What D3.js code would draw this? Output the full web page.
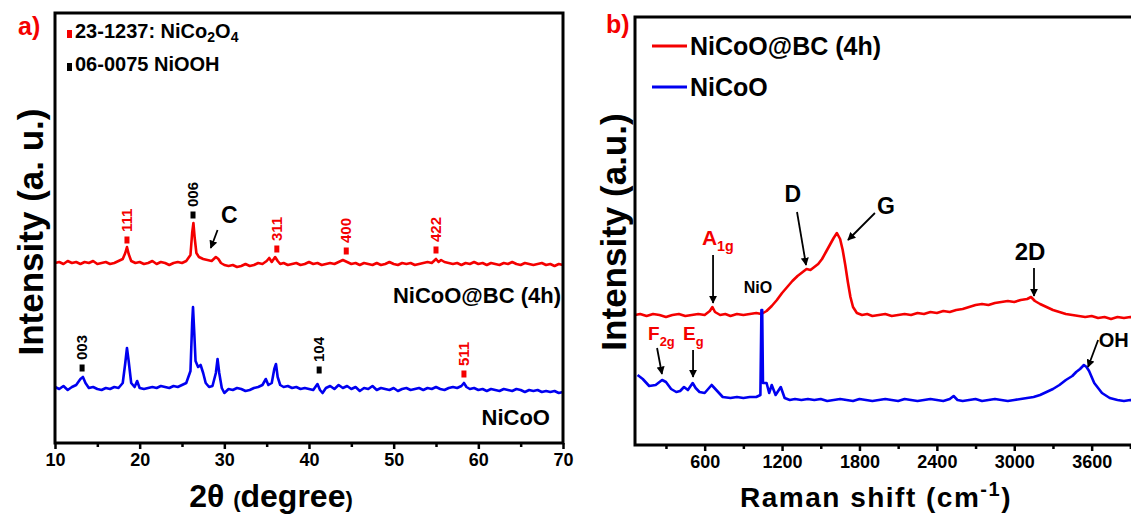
<!DOCTYPE html>
<html>
<head>
<meta charset="utf-8">
<script src="https://cdn.jsdelivr.net/npm/d3@7"></script>
<style>
    body { margin: 0; background: #fff; }
    svg text { font-family: "Liberation Sans", Arial, sans-serif; font-weight: bold; }
</style>
</head>
<body>
<svg id="chart"></svg>
<script>
/*--------------------------------------------------------------------------------
----- DATA (intensities in arbitrary units)
--------------------------------------------------------------------------------*/

// XRD axis ticks
const xrd_ticks = [10, 20, 30, 40, 50, 60, 70];
const xrd_minor_ticks = [15, 25, 35, 45, 55, 65];

// Raman axis ticks
const raman_ticks = [600, 1200, 1800, 2400, 3000, 3600];
const raman_minor_ticks = [300, 900, 1500, 2100, 2700, 3300, 3900];

// XRD pattern of NiCoO@BC (4h): [2theta, intensity]
const xrd_bc_points = [
    [10, 180], [10.5, 181], [11, 179], [11.5, 182], [12, 180], [12.5, 181], [13, 179], [13.5, 181],
    [14, 180], [14.5, 182], [15, 179], [15.5, 180], [16, 181], [16.5, 179], [17, 180], [17.5, 182],
    [18, 184], [18.3, 190], [18.5, 196], [18.7, 189], [19, 182], [19.5, 180], [20, 181], [20.5, 179],
    [21, 180], [21.5, 182], [22, 179], [22.5, 181], [23, 180], [23.5, 178], [24, 180], [24.5, 181],
    [25, 180], [25.5, 182], [26, 188], [26.2, 210], [26.35, 220], [26.5, 205], [26.7, 190], [27, 186],
    [27.5, 184], [28, 183], [28.5, 182], [29, 186], [29.3, 184], [29.6, 180], [30, 178], [30.5, 177],
    [31, 178], [31.5, 176], [32, 177], [32.5, 179], [33, 177], [33.5, 178], [34, 180], [34.5, 179],
    [35, 182], [35.3, 185], [35.6, 181], [36, 186], [36.3, 182], [36.6, 179], [37, 180], [37.5, 178],
    [38, 179], [38.5, 180], [39, 178], [39.5, 179], [40, 181], [40.5, 179], [41, 180], [41.5, 178],
    [42, 179], [42.5, 180], [43, 179], [43.5, 181], [44, 183], [44.5, 181], [45, 179], [45.5, 180],
    [46, 178], [46.5, 180], [47, 179], [47.5, 178], [48, 180], [48.5, 178], [49, 179], [49.5, 181],
    [50, 179], [50.5, 178], [51, 180], [51.5, 179], [52, 180], [52.5, 178], [53, 179], [53.5, 180],
    [54, 181], [54.5, 180], [55, 184], [55.3, 181], [55.6, 183], [56, 181], [56.5, 180], [57, 179],
    [57.5, 180], [58, 178], [58.5, 180], [59, 179], [59.5, 181], [60, 179], [60.5, 180], [61, 178],
    [61.5, 180], [62, 179], [62.5, 178], [63, 180], [63.5, 179], [64, 181], [64.5, 179], [65, 178],
    [65.5, 180], [66, 179], [66.5, 178], [67, 179], [67.5, 180], [68, 178], [68.5, 179], [69, 177],
    [69.5, 179], [70, 178]
];

// XRD pattern of NiCoO: [2theta, intensity]
const xrd_nicoo_points = [
    [10, 56], [10.5, 54], [11, 57], [11.5, 53], [12, 56], [12.5, 58], [13, 64], [13.3, 66],
    [13.6, 60], [14, 55], [14.5, 56], [15, 54], [15.5, 53], [16, 55], [16.5, 54], [17, 56],
    [17.5, 55], [18, 60], [18.3, 80], [18.5, 95], [18.7, 82], [19, 60], [19.4, 56], [19.7, 62],
    [20, 55], [20.5, 54], [21, 55], [21.5, 56], [22, 55], [22.5, 57], [23, 56], [23.5, 55],
    [24, 57], [24.5, 56], [25, 58], [25.5, 60], [26, 72], [26.2, 120], [26.3, 136], [26.45, 110],
    [26.6, 82], [26.9, 76], [27.2, 78], [27.5, 70], [27.8, 60], [28.2, 56], [28.6, 57], [29, 70],
    [29.2, 84], [29.4, 70], [29.7, 55], [30, 50], [30.5, 54], [31, 53], [31.5, 55], [32, 54],
    [32.5, 52], [33, 53], [33.5, 55], [34, 56], [34.5, 58], [34.9, 64], [35.2, 58], [35.6, 60],
    [35.9, 74], [36.1, 79], [36.3, 66], [36.6, 58], [37, 56], [37.5, 57], [38, 55], [38.5, 56],
    [39, 54], [39.5, 55], [40, 54], [40.5, 53], [41, 59], [41.3, 53], [41.6, 50], [42, 55],
    [42.5, 57], [43, 54], [43.5, 58], [44, 55], [44.5, 57], [45, 54], [45.5, 56], [46, 52],
    [46.5, 55], [47, 54], [47.5, 57], [48, 53], [48.5, 55], [49, 54], [49.5, 53], [50, 55],
    [50.5, 52], [51, 54], [51.5, 55], [52, 53], [52.5, 54], [53, 55], [53.5, 53], [54, 55],
    [54.5, 54], [55, 56], [55.5, 54], [56, 53], [56.5, 55], [57, 56], [57.5, 55], [58, 57],
    [58.3, 60], [58.6, 56], [59, 54], [59.5, 55], [60, 53], [60.5, 54], [61, 52], [61.5, 54],
    [62, 53], [62.5, 52], [63, 54], [63.5, 53], [64, 52], [64.5, 54], [65, 53], [65.5, 51],
    [66, 53], [66.5, 52], [67, 53], [67.5, 51], [68, 52], [68.5, 51], [69, 52], [69.5, 50],
    [70, 51]
];

// Reference peaks (JCPDS 23-1237 NiCo2O4 in red, 06-0075 NiOOH in black)
const nico2o4_peaks = [
    { hkl: "111", x: 18.5, y: 203 }, { hkl: "311", x: 36.2, y: 194 },
    { hkl: "400", x: 44.4, y: 192 }, { hkl: "422", x: 55.0, y: 193 },
    { hkl: "511", x: 58.3, y: 69 }
];
const niooh_peaks = [
    { hkl: "006", x: 26.3, y: 228 }, { hkl: "003", x: 13.2, y: 75 },
    { hkl: "104", x: 41.2, y: 73 }
];

// Raman spectrum of NiCoO@BC (4h): [shift, intensity]
const raman_bc_points = [
    [60, 130], [100, 131], [150, 129], [200, 131], [250, 130], [300, 128], [350, 130], [400, 131],
    [450, 129], [500, 130], [550, 131], [600, 130], [640, 134], [660, 138], [680, 133], [720, 130],
    [760, 131], [800, 129], [850, 131], [900, 130], [950, 131], [1000, 132], [1040, 131], [1080, 134],
    [1120, 139], [1160, 145], [1200, 152], [1240, 158], [1280, 164], [1320, 169], [1360, 173], [1390, 176],
    [1420, 175], [1450, 178], [1480, 181], [1510, 186], [1540, 193], [1570, 200], [1600, 207], [1625, 212],
    [1650, 206], [1670, 195], [1690, 180], [1710, 163], [1730, 148], [1750, 138], [1780, 132], [1820, 130],
    [1860, 131], [1900, 129], [1950, 130], [2000, 131], [2050, 129], [2100, 130], [2150, 131], [2200, 130],
    [2250, 132], [2300, 131], [2350, 133], [2400, 132], [2450, 134], [2500, 133], [2550, 135], [2600, 136],
    [2650, 138], [2700, 140], [2750, 141], [2800, 140], [2850, 142], [2900, 143], [2950, 144], [3000, 143],
    [3050, 145], [3100, 146], [3130, 148], [3160, 144], [3200, 141], [3250, 138], [3300, 135], [3350, 133],
    [3400, 131], [3450, 130], [3500, 129], [3550, 128], [3600, 129], [3650, 127], [3700, 128], [3750, 126],
    [3800, 128], [3850, 127], [3900, 128], [3950, 127], [4000, 128]
];

// Raman spectrum of NiCoO: [shift, intensity]
const raman_nicoo_points = [
    [80, 70], [120, 66], [170, 59], [220, 60], [270, 65], [300, 63], [340, 56], [380, 53],
    [410, 54], [440, 58], [470, 55], [507, 62], [530, 57], [560, 53], [600, 52], [654, 60],
    [690, 55], [740, 48], [800, 47], [850, 48], [900, 47], [950, 48], [1000, 48], [1032, 50],
    [1040, 135], [1046, 135], [1052, 62], [1080, 62], [1100, 52], [1120, 60], [1150, 50], [1190, 58],
    [1220, 47], [1260, 45], [1300, 46], [1350, 45], [1400, 46], [1450, 45], [1500, 46], [1550, 44],
    [1600, 45], [1650, 46], [1700, 45], [1750, 44], [1800, 46], [1850, 45], [1900, 44], [1950, 45],
    [2000, 46], [2050, 45], [2100, 44], [2150, 46], [2200, 45], [2250, 44], [2300, 45], [2350, 46],
    [2400, 45], [2450, 44], [2500, 46], [2530, 49], [2560, 45], [2600, 44], [2650, 45], [2700, 46],
    [2750, 44], [2800, 45], [2850, 46], [2900, 45], [2950, 44], [3000, 45], [3050, 46], [3100, 47],
    [3150, 48], [3200, 50], [3250, 53], [3300, 56], [3350, 60], [3400, 65], [3450, 69], [3480, 73],
    [3510, 76], [3540, 80], [3560, 78], [3580, 74], [3620, 62], [3680, 52], [3740, 47], [3800, 45],
    [3850, 44], [3900, 45], [3950, 44], [4000, 44]
];

/*--------------------------------------------------------------------------------
----- LAYOUT
--------------------------------------------------------------------------------*/
const width = 1131, height = 522;
const red = "#f40000", blue = "#0000f0";

const svg = d3.select("#chart")
    .attr("width", width)
    .attr("height", height);

svg.append("rect").attr("width", width).attr("height", height).attr("fill", "#fff");

// Arrow head for annotations
svg.append("defs").append("marker")
    .attr("id", "head")
    .attr("viewBox", "0 0 10 10")
    .attr("refX", 9).attr("refY", 5)
    .attr("markerWidth", 4.5).attr("markerHeight", 4.5)
    .attr("markerUnits", "strokeWidth")
    .attr("orient", "auto")
    .append("path")
    .attr("d", "M0,0 L10,5 L0,10 z")
    .attr("fill", "#000");

const line_gen = (xs, ys) => d3.line().x(d => xs(d[0])).y(d => ys(d[1]));

function draw_arrow(g, xs, ys, tail, tip) {
    g.append("line")
        .attr("x1", xs(tail[0])).attr("y1", ys(tail[1]))
        .attr("x2", xs(tip[0])).attr("y2", ys(tip[1]))
        .attr("stroke", "#000")
        .attr("stroke-width", 1.8)
        .attr("marker-end", "url(#head)");
}

/*--------------------------------------------------------------------------------
----- PANEL a) XRD
--------------------------------------------------------------------------------*/
const xrd_x = d3.scaleLinear().domain([10, 70]).range([55, 563]);
const xrd_y = d3.scaleLinear().domain([0, 430]).range([443, 13]);
const ga = svg.append("g");

// Curves
ga.append("path").datum(xrd_bc_points)
    .attr("d", line_gen(xrd_x, xrd_y))
    .attr("fill", "none").attr("stroke", red).attr("stroke-width", 2.6)
    .attr("stroke-linejoin", "round");
ga.append("path").datum(xrd_nicoo_points)
    .attr("d", line_gen(xrd_x, xrd_y))
    .attr("fill", "none").attr("stroke", blue).attr("stroke-width", 2.6)
    .attr("stroke-linejoin", "round");

// Peak markers and hkl labels
function draw_peaks(peaks, color) {
    const pg = ga.append("g");
    pg.selectAll("rect")
        .data(peaks)
        .enter()
        .append("rect")
        .attr("x", d => xrd_x(d.x) - 2.5)
        .attr("y", d => xrd_y(d.y) - 3.5)
        .attr("width", 5).attr("height", 7)
        .attr("fill", color);
    pg.selectAll("text")
        .data(peaks)
        .enter()
        .append("text")
        .attr("transform", d => `translate(${xrd_x(d.x) + 5},${xrd_y(d.y) - 8}) rotate(-90)`)
        .attr("font-size", 15)
        .attr("font-weight", "normal")
        .attr("fill", color)
        .text(d => d.hkl);
}
draw_peaks(nico2o4_peaks, red);
draw_peaks(niooh_peaks, "#000");

// Carbon annotation
ga.append("text").attr("x", xrd_x(29.6)).attr("y", xrd_y(220))
    .attr("font-size", 23).text("C");
draw_arrow(ga, xrd_x, xrd_y, [29.2, 213], [28.4, 195]);

// Frame
ga.append("rect")
    .attr("x", 55).attr("y", 13).attr("width", 508).attr("height", 430)
    .attr("fill", "none").attr("stroke", "#000").attr("stroke-width", 3);

// X axis with major and minor ticks
const xrd_axis = ga.append("g")
    .attr("transform", "translate(0,443)")
    .call(d3.axisBottom(xrd_x).tickValues(xrd_ticks).tickSize(6).tickPadding(4).tickFormat(d3.format("d")));
ga.append("g")
    .attr("transform", "translate(0,443)")
    .call(d3.axisBottom(xrd_x).tickValues(xrd_minor_ticks).tickSize(4).tickFormat(""))
    .call(g => g.select(".domain").remove());
xrd_axis.select(".domain").remove();
ga.selectAll(".tick line").attr("stroke-width", 2.5);
xrd_axis.selectAll("text").attr("font-size", 18).attr("font-family", "Liberation Sans, Arial, sans-serif").attr("font-weight", "bold");

// Axis titles
const xrd_title = ga.append("text").attr("x", 271).attr("y", 507)
    .attr("text-anchor", "middle").attr("font-size", 32);
xrd_title.append("tspan").text("2θ ");
xrd_title.append("tspan").attr("font-size", 22).text("(");
xrd_title.append("tspan").text("degree");
xrd_title.append("tspan").attr("font-size", 22).text(")");

ga.append("text")
    .attr("transform", "translate(43,232) rotate(-90)")
    .attr("text-anchor", "middle").attr("font-size", 35)
    .text("Intensity (a. u.)");

// Panel label and phase legend
ga.append("text").attr("x", 18).attr("y", 35).attr("font-size", 25).attr("fill", red).text("a)");

const ref_legend = [
    { color: red, parts: [["23-1237: NiCo", 0], ["2", 1], ["O", 0], ["4", 1]], y: 42 },
    { color: "#000", parts: [["06-0075 NiOOH", 0]], y: 75 }
];
ref_legend.forEach(item => {
    ga.append("rect").attr("x", 67).attr("y", item.y - 12).attr("width", 5).attr("height", 8).attr("fill", item.color);
    const t = ga.append("text").attr("x", 75).attr("y", item.y).attr("font-size", 20);
    item.parts.forEach(p => {
        t.append("tspan")
            .attr("font-size", p[1] ? 14 : 20)
            .attr("dy", p[1] ? 4 : (t.selectAll("tspan").size() > 0 ? -4 : 0))
            .text(p[0]);
    });
});

// Sample labels
ga.append("text").attr("x", 561).attr("y", 303).attr("text-anchor", "end").attr("font-size", 22).text("NiCoO@BC (4h)");
ga.append("text").attr("x", 550).attr("y", 425).attr("text-anchor", "end").attr("font-size", 22).text("NiCoO");

/*--------------------------------------------------------------------------------
----- PANEL b) RAMAN
--------------------------------------------------------------------------------*/
const raman_x = d3.scaleLinear().domain([60, 4000]).range([635, 635 + 3940 * 0.129]);
const raman_y = d3.scaleLinear().domain([0, 428]).range([445, 17]);
const gb = svg.append("g");

gb.append("path").datum(raman_bc_points)
    .attr("d", line_gen(raman_x, raman_y))
    .attr("fill", "none").attr("stroke", red).attr("stroke-width", 2.6)
    .attr("stroke-linejoin", "round");
gb.append("path").datum(raman_nicoo_points)
    .attr("d", line_gen(raman_x, raman_y))
    .attr("fill", "none").attr("stroke", blue).attr("stroke-width", 2.6)
    .attr("stroke-linejoin", "round");

// Band annotations
const raman_arrows = [
    [[665, 190], [665, 142]], [[1316, 233], [1386, 180]], [[1920, 232], [1711, 205]],
    [[3153, 177], [3153, 149]], [[3650, 105], [3572, 78]], [[231, 97], [269, 71]],
    [[510, 95], [510, 68]]
];
raman_arrows.forEach(a => draw_arrow(gb, raman_x, raman_y, a[0], a[1]));

const raman_labels = [
    { x: 579, y: 200, main: "A", sub: "1g", color: red, size: 21, anchor: "start" },
    { x: 1013, y: 152, main: "NiO", sub: "", color: "#000", size: 16, anchor: "middle" },
    { x: 1283, y: 243, main: "D", sub: "", color: "#000", size: 23, anchor: "middle" },
    { x: 1936, y: 231, main: "G", sub: "", color: "#000", size: 23, anchor: "start" },
    { x: 3122, y: 185, main: "2D", sub: "", color: "#000", size: 24, anchor: "middle" },
    { x: 3655, y: 98, main: "OH", sub: "", color: "#000", size: 20, anchor: "start" },
    { x: 161, y: 105, main: "F", sub: "2g", color: red, size: 19, anchor: "start" },
    { x: 432, y: 105, main: "E", sub: "g", color: red, size: 19, anchor: "start" }
];
raman_labels.forEach(l => {
    const t = gb.append("text")
        .attr("x", raman_x(l.x)).attr("y", raman_y(l.y))
        .attr("text-anchor", l.anchor).attr("font-size", l.size).attr("fill", l.color)
        .text(l.main);
    if (l.sub) t.append("tspan").attr("font-size", l.size * 0.68).attr("dy", 6).text(l.sub);
});

// Frame (left and top, right edge runs off the picture)
gb.append("path")
    .attr("d", `M${raman_x.range()[1]},17 H635 V445 H${raman_x.range()[1]}`)
    .attr("fill", "none").attr("stroke", "#000").attr("stroke-width", 3);

const raman_axis = gb.append("g")
    .attr("transform", "translate(0,445)")
    .call(d3.axisBottom(raman_x).tickValues(raman_ticks).tickSize(6).tickPadding(4).tickFormat(d3.format("d")));
gb.append("g")
    .attr("transform", "translate(0,445)")
    .call(d3.axisBottom(raman_x).tickValues(raman_minor_ticks).tickSize(4).tickFormat(""))
    .call(g => g.select(".domain").remove());
raman_axis.select(".domain").remove();
gb.selectAll(".tick line").attr("stroke-width", 2.5);
raman_axis.selectAll("text").attr("font-size", 18).attr("font-family", "Liberation Sans, Arial, sans-serif").attr("font-weight", "bold");

const raman_title = gb.append("text").attr("x", 876).attr("y", 507)
    .attr("text-anchor", "middle").attr("font-size", 28).attr("letter-spacing", 1.5);
raman_title.append("tspan").text("Raman shift (cm");
raman_title.append("tspan").attr("font-size", 20).attr("dy", -11).text("-1");
raman_title.append("tspan").attr("dy", 11).text(")");

gb.append("text")
    .attr("transform", "translate(626,232) rotate(-90)")
    .attr("text-anchor", "middle").attr("font-size", 35)
    .text("Intensity (a.u.)");

gb.append("text").attr("x", 606).attr("y", 33).attr("font-size", 25).attr("fill", red).text("b)");

// Sample legend
const raman_legend = [
    { name: "NiCoO@BC (4h)", color: red, y: 46 },
    { name: "NiCoO", color: blue, y: 87 }
];
raman_legend.forEach(item => {
    gb.append("line").attr("x1", 652).attr("x2", 687).attr("y1", item.y).attr("y2", item.y)
        .attr("stroke", item.color).attr("stroke-width", 3);
    gb.append("text").attr("x", 690).attr("y", item.y + 9).attr("font-size", 25).text(item.name);
});
</script>
</body>
</html>
